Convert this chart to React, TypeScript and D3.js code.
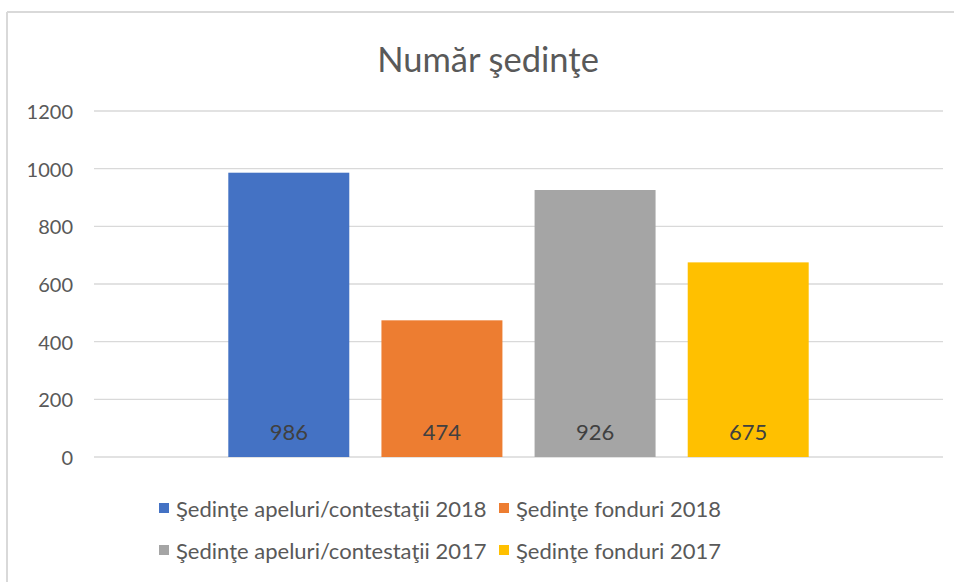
import React from 'react';
import * as d3 from 'd3';

// Chart data
const categories = ['Număr şedinţe'];
const seriesNames = [
  'Şedinţe apeluri/contestaţii 2018',
  'Şedinţe fonduri 2018',
  'Şedinţe apeluri/contestaţii 2017',
  'Şedinţe fonduri 2017',
];
const seriesValues = [986, 474, 926, 675];
const seriesColors = ['#4472c4', '#ed7d31', '#a5a5a5', '#ffc000'];
const yTicks = [0, 200, 400, 600, 800, 1000, 1200];

const W = 954;
const H = 582;
const FONT = "Lato, 'Open Sans', sans-serif";

const App = () => {
  const plot = { left: 94, right: 943, top: 111, bottom: 457 };

  const y = d3.scaleLinear().domain([0, 1200]).range([plot.bottom, plot.top]);

  const x0 = d3.scaleBand<string>()
    .domain(categories)
    .range([plot.left, plot.right])
    .paddingInner(0)
    .paddingOuter(0.193);

  const x1 = d3.scaleBand<string>()
    .domain(seriesNames)
    .range([0, x0.bandwidth()])
    .paddingInner(0.21)
    .paddingOuter(0.105);

  // legend layout: two rows, two items each
  const legendRows = [
    [0, 1],
    [2, 3],
  ];
  const legendX = [159, 499];
  const legendY = [508, 550];

  return (
    <div style={{ position: 'absolute', left: 0, top: 0 }}>
      <svg width={W} height={H} style={{ display: 'block', background: '#fff' }}>
        {/* chart frame (cropped at right/bottom) */}
        <line x1={7} x2={W} y1={12} y2={12} stroke="#d9d9d9" strokeWidth={2} />
        <line x1={7} x2={7} y1={12} y2={H} stroke="#d9d9d9" strokeWidth={2} />

        <text
          x={488}
          y={58}
          textAnchor="middle"
          dominantBaseline="central"
          fontFamily={FONT}
          fontSize={34.5}
          fill="#595959"
        >
          Număr şedinţe
        </text>

        {/* grid and y labels */}
        {yTicks.map((t) => (
          <g key={t}>
            <line
              x1={plot.left}
              x2={plot.right}
              y1={y(t)}
              y2={y(t)}
              stroke="#d9d9d9"
              strokeWidth={1.3}
            />
            <text
              x={73}
              y={y(t)}
              textAnchor="end"
              dominantBaseline="central"
              fontFamily={FONT}
              fontSize={20}
              fill="#595959"
            >
              {t}
            </text>
          </g>
        ))}

        {/* bars */}
        {categories.map((c) => (
          <g key={c} transform={`translate(${x0(c)},0)`}>
            {seriesNames.map((s, i) => (
              <g key={s}>
                <rect
                  x={x1(s)}
                  y={y(seriesValues[i])}
                  width={x1.bandwidth()}
                  height={y(0) - y(seriesValues[i])}
                  fill={seriesColors[i]}
                />
                <text
                  x={(x1(s) || 0) + x1.bandwidth() / 2}
                  y={y(0) - 26}
                  textAnchor="middle"
                  dominantBaseline="central"
                  fontFamily={FONT}
                  fontSize={22}
                  fill="#404040"
                >
                  {seriesValues[i]}
                </text>
              </g>
            ))}
          </g>
        ))}

        {/* legend */}
        {legendRows.map((row, r) =>
          row.map((idx, k) => (
            <g key={idx} transform={`translate(${legendX[k]},${legendY[r]})`}>
              <rect x={0} y={-5} width={10} height={10} fill={seriesColors[idx]} />
              <text
                x={17}
                y={0}
                dominantBaseline="central"
                fontFamily={FONT}
                fontSize={22}
                fill="#595959"
              >
                {seriesNames[idx]}
              </text>
            </g>
          ))
        )}
      </svg>
    </div>
  );
};

export default App;
